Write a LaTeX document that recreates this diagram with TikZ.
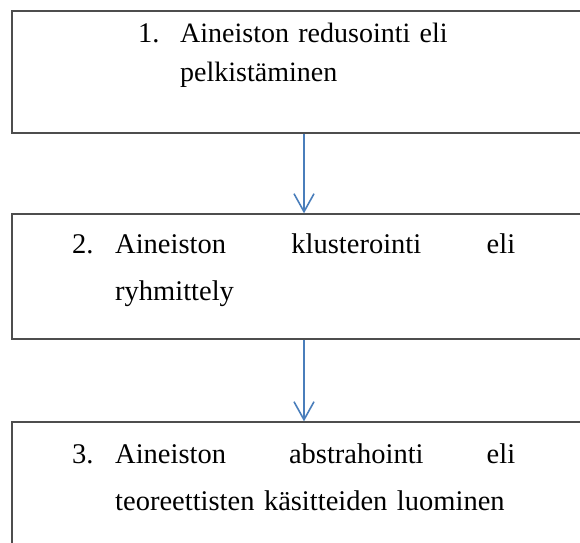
\documentclass[tikz,border=0pt]{standalone}
\usepackage{fontspec}
\setmainfont{Liberation Serif}
\usetikzlibrary{arrows.meta}
\definecolor{framegray}{HTML}{4D4D4D}
\definecolor{arrowblue}{HTML}{4A7EBB}

\begin{document}
\begin{tikzpicture}[x=1pt, y=-1pt,
    flow/.style={-{Straight Barb[length=18pt,width=20pt]}, arrowblue, line width=1.6pt},
    stage/.style={draw=framegray, line width=1.3pt, minimum width=584pt, inner sep=0pt},
    txt/.style={anchor=base west, inner sep=0pt, font=\fontsize{28.5}{47}\selectfont}]
    \useasboundingbox (0,0) rectangle (580,542);
    \clip (0,0) rectangle (580,542);

    \node[stage, minimum height=122pt] (RED) at (304,72)    {};
    \node[stage, minimum height=125pt] (KLU) at (304,276.5) {};
    \node[stage, minimum height=150pt] (ABS) at (304,497)   {};

    \node[txt] (RED-n) at (138,42) {1.};
    \node[txt, text width=320pt, align=left, font=\fontsize{28}{39}\selectfont] (RED-t) at (180,42) {Aineiston redusointi eli\\pelkistäminen};
    \node[txt] (KLU-n) at (72,253) {2.};
    \node[txt, text width=400pt, align=left] (KLU-t) at (115,253) {Aineiston\hfill klusterointi\hfill eli\\ryhmittely};
    \node[txt] (ABS-n) at (72,463) {3.};
    \node[txt, text width=400pt, align=left] (ABS-t) at (115,463) {Aineiston\hfill abstrahointi\hfill eli\\teoreettisten käsitteiden luominen};

    \path (RED) edge[flow] (KLU)
          (KLU) edge[flow] (ABS);
\end{tikzpicture}
\end{document}
